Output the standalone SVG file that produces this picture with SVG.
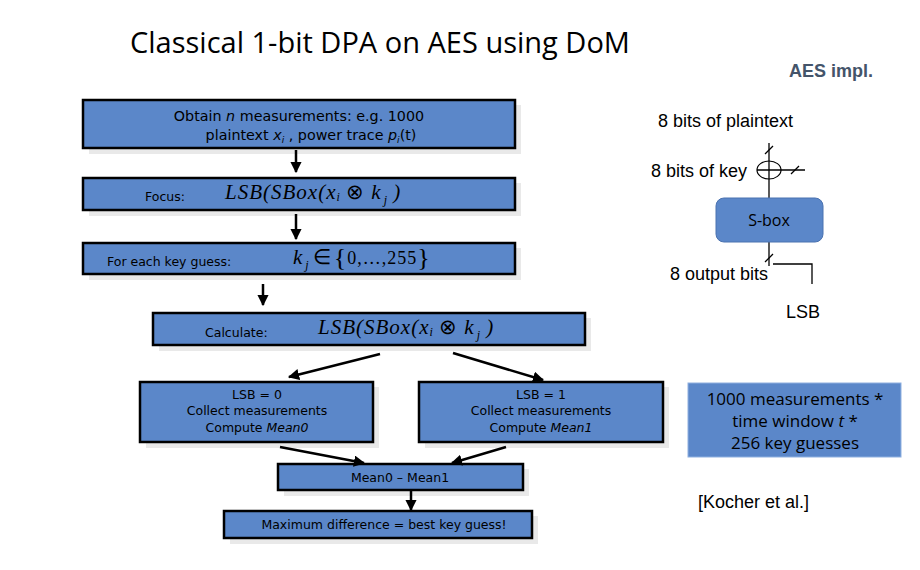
<svg xmlns="http://www.w3.org/2000/svg" width="920" height="570" viewBox="0 0 920 570">
  <defs>
    <marker id="arrow" viewBox="0 0 10 10" refX="9" refY="5" markerWidth="4.5" markerHeight="4.5" orient="auto" markerUnits="strokeWidth">
      <path d="M0,0 L10,5 L0,10 z" fill="#000"/>
    </marker>
    <style>
      .shadow { fill: #e9e9e9; }
      .box { fill: #5b87c9; stroke: #000; stroke-width: 2.5; }
      .lbl { font-family: "DejaVu Sans", Verdana, sans-serif; font-size: 12.5px; fill: #000; }
      .lbl-l { font-family: "DejaVu Sans", Verdana, sans-serif; font-size: 14.3px; fill: #000; }
      .math { font-family: "Liberation Serif", "Times New Roman", serif; font-style: italic; font-size: 21px; letter-spacing: 1px; fill: #000; }
      .up { font-style: normal; }
      .sub { font-size: 12px; letter-spacing: 0; }
      .conn { stroke: #000; stroke-width: 2.5; fill: none; }
      .wire { stroke: #000; stroke-width: 1.3; fill: none; }
      .side { font-family: "Liberation Sans", Arial, sans-serif; font-size: 18px; fill: #000; }
      .note { font-family: "Open Sans", "Liberation Sans", sans-serif; font-size: 17px; fill: #000; }
    </style>
  </defs>

  <rect width="920" height="570" fill="#fff"/>

  <!-- heading -->
  <text x="130" y="53" font-family="'Open Sans', 'Liberation Sans', sans-serif" font-size="29" fill="#000">Classical 1-bit DPA on AES using DoM</text>
  <text x="789" y="77" font-family="'Liberation Sans', Arial, sans-serif" font-size="18" font-weight="bold" fill="#44546a">AES impl.</text>

  <!-- flow chart nodes -->
  <g id="obtain">
    <rect class="shadow" x="89" y="105" width="432" height="49"/>
    <rect class="box" x="83" y="100" width="432" height="48"/>
    <text class="lbl-l" x="299" y="121" text-anchor="middle">Obtain <tspan font-style="italic">n</tspan> measurements: e.g. 1000</text>
    <text class="lbl-l" x="311" y="140" text-anchor="middle">plaintext <tspan font-style="italic">x</tspan><tspan font-style="italic" font-size="9" dy="3">i</tspan><tspan dy="-3"> ,  power trace </tspan><tspan font-style="italic">p</tspan><tspan font-style="italic" font-size="9" dy="3">i</tspan><tspan dy="-3">(t)</tspan></text>
  </g>

  <g id="focus">
    <rect class="shadow" x="89" y="183" width="432" height="33"/>
    <rect class="box" x="83" y="178" width="432" height="32"/>
    <text class="lbl" x="145" y="201">Focus:</text>
    <text class="math" x="225" y="199">LSB(SBox(x<tspan class="sub" dy="2">i</tspan><tspan class="up" dy="-2"> ⊗ </tspan>k<tspan class="sub" dx="2" dy="5">j</tspan><tspan dy="-5"> )</tspan></text>
  </g>

  <g id="keyguess">
    <rect class="shadow" x="89" y="248" width="432" height="32"/>
    <rect class="box" x="83" y="243" width="432" height="31"/>
    <text class="lbl" x="107" y="266">For each key guess:</text>
    <text class="math" x="293" y="264" font-size="20" letter-spacing="0">k<tspan class="sub" dx="2" dy="5">j</tspan><tspan class="up" dx="4" dy="-5">∈</tspan><tspan class="up" font-size="26" dx="2" dy="2">{</tspan><tspan class="up" font-size="18" dy="-2">0,…,255</tspan><tspan class="up" font-size="26" dy="2">}</tspan></text>
  </g>

  <g id="calculate">
    <rect class="shadow" x="159" y="318" width="432" height="33"/>
    <rect class="box" x="153" y="313" width="432" height="32"/>
    <text class="lbl" x="205" y="337">Calculate:</text>
    <text class="math" x="318" y="334">LSB(SBox(x<tspan class="sub" dy="2">i</tspan><tspan class="up" dy="-2"> ⊗ </tspan>k<tspan class="sub" dx="2" dy="5">j</tspan><tspan dy="-5"> )</tspan></text>
  </g>

  <g id="lsb0">
    <rect class="shadow" x="146" y="387" width="233" height="61"/>
    <rect class="box" x="140" y="382" width="233" height="60"/>
    <text class="lbl" x="257" y="399" text-anchor="middle">LSB = 0</text>
    <text class="lbl" x="257" y="415" text-anchor="middle">Collect measurements</text>
    <text class="lbl" x="257" y="432" text-anchor="middle">Compute <tspan font-style="italic">Mean0</tspan></text>
  </g>

  <g id="lsb1">
    <rect class="shadow" x="425" y="387" width="244" height="61"/>
    <rect class="box" x="419" y="382" width="244" height="60"/>
    <text class="lbl" x="541" y="399" text-anchor="middle">LSB = 1</text>
    <text class="lbl" x="541" y="415" text-anchor="middle">Collect measurements</text>
    <text class="lbl" x="541" y="432" text-anchor="middle">Compute <tspan font-style="italic">Mean1</tspan></text>
  </g>

  <g id="diff">
    <rect class="shadow" x="284" y="469" width="245" height="27"/>
    <rect class="box" x="278" y="464" width="245" height="26"/>
    <text class="lbl" x="400" y="482" text-anchor="middle">Mean0 – Mean1</text>
  </g>

  <g id="best">
    <rect class="shadow" x="230" y="516" width="308" height="28"/>
    <rect class="box" x="224" y="511" width="308" height="27"/>
    <text class="lbl" x="384" y="529" text-anchor="middle">Maximum difference = best key guess!</text>
  </g>

  <!-- flow chart connectors -->
  <g id="connectors">
    <line class="conn" x1="296" y1="150" x2="296" y2="172" marker-end="url(#arrow)"/>
    <line class="conn" x1="296" y1="214" x2="296" y2="239" marker-end="url(#arrow)"/>
    <line class="conn" x1="263" y1="284" x2="263" y2="305" marker-end="url(#arrow)"/>
    <line class="conn" x1="380" y1="354" x2="289" y2="377" marker-end="url(#arrow)"/>
    <line class="conn" x1="453" y1="353" x2="543" y2="380" marker-end="url(#arrow)"/>
    <line class="conn" x1="280" y1="447" x2="364" y2="463" marker-end="url(#arrow)"/>
    <line class="conn" x1="506" y1="447" x2="452" y2="463" marker-end="url(#arrow)"/>
    <line class="conn" x1="411" y1="491" x2="411" y2="510" marker-end="url(#arrow)"/>
  </g>

  <!-- S-box datapath -->
  <g id="sbox-path">
    <text class="side" x="658" y="127">8 bits of plaintext</text>
    <text class="side" x="651" y="177">8 bits of key</text>
    <line class="wire" x1="769" y1="143" x2="769" y2="198"/>
    <line class="wire" x1="765" y1="154" x2="773" y2="146"/>
    <ellipse cx="769" cy="170" rx="12" ry="9" fill="#fff" stroke="#000" stroke-width="1.2"/>
    <line class="wire" x1="757" y1="170" x2="805" y2="170"/>
    <line class="wire" x1="769" y1="161" x2="769" y2="179"/>
    <line class="wire" x1="791" y1="174" x2="799" y2="166"/>
    <line class="wire" x1="769" y1="242" x2="769" y2="266"/>
    <line class="wire" x1="765" y1="262" x2="773" y2="254"/>
    <polyline class="wire" points="773,264 812,264 812,284"/>
    <text class="side" x="670" y="280">8 output bits</text>
    <text class="side" x="786" y="318">LSB</text>
  </g>
  <g id="sbox">
    <rect x="716" y="198" width="107" height="44" rx="8" fill="#5b87c9" stroke="#4a72b0" stroke-width="1"/>
    <text x="769" y="226" text-anchor="middle" font-family="'Open Sans', 'Liberation Sans', sans-serif" font-size="16" fill="#000">S-box</text>
  </g>

  <g id="complexity">
    <rect x="688" y="383" width="213" height="74" fill="#5b87c9" stroke="#8fb0e0" stroke-width="1"/>
    <text class="note" x="795" y="405" text-anchor="middle">1000 measurements *</text>
    <text class="note" x="795" y="427" text-anchor="middle">time window <tspan font-style="italic">t</tspan> *</text>
    <text class="note" x="795" y="449" text-anchor="middle">256 key guesses</text>
  </g>

  <text class="side" x="698" y="508" font-size="19.5">[Kocher et al.]</text>
</svg>
